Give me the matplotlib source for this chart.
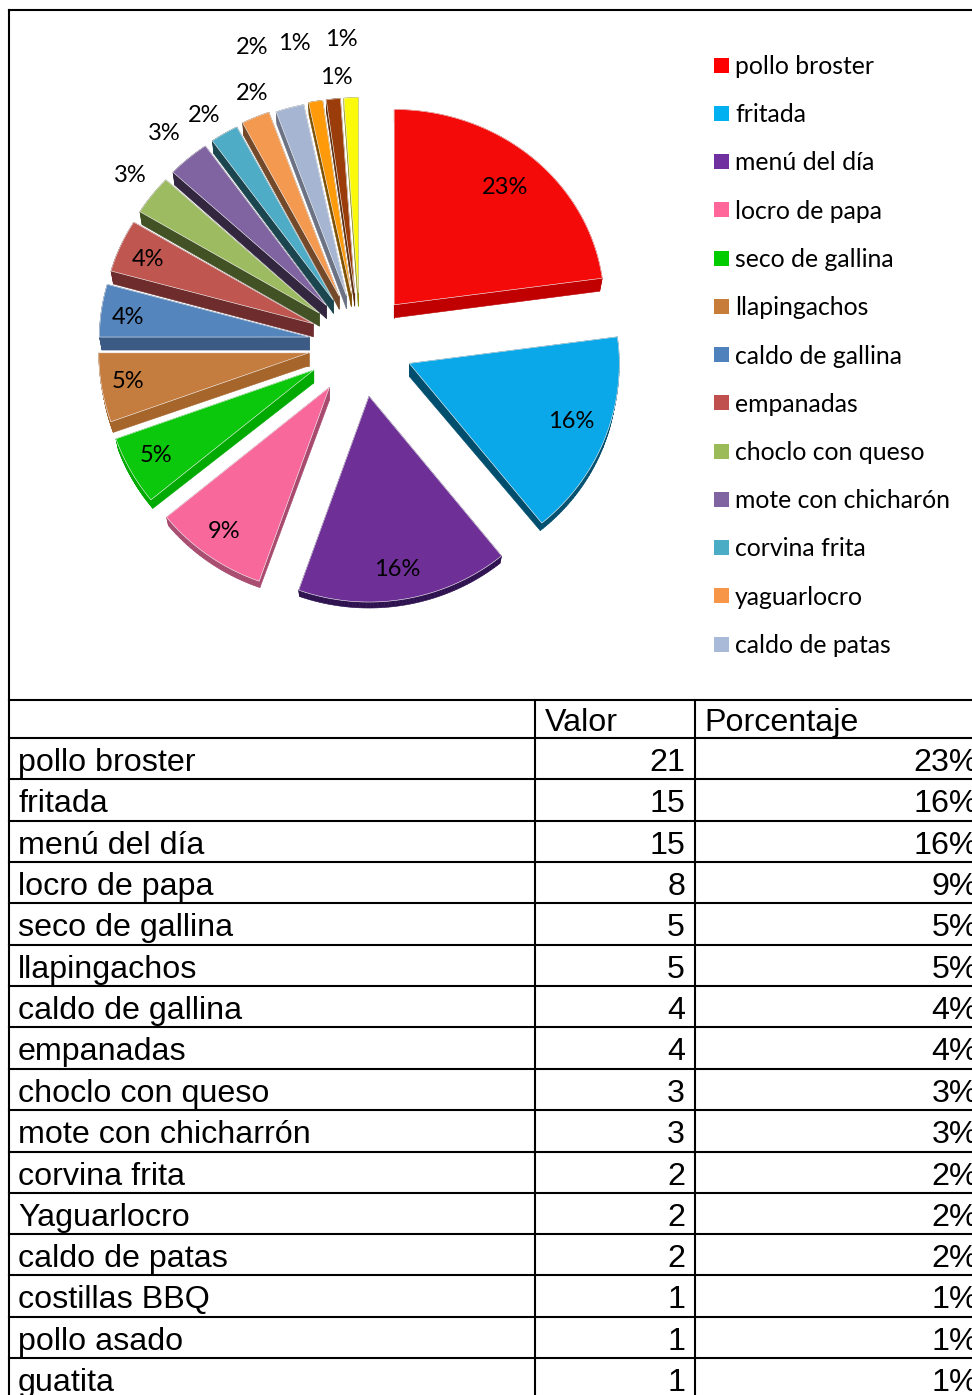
import matplotlib
matplotlib.use("Agg")
import matplotlib.pyplot as plt
from matplotlib.patches import Polygon, Rectangle
import numpy as np

# table rows
rows = ['pollo broster', 'fritada', 'menú del día', 'locro de papa', 'seco de gallina',
        'llapingachos', 'caldo de gallina', 'empanadas', 'choclo con queso',
        'mote con chicharrón', 'corvina frita', 'Yaguarlocro', 'caldo de patas',
        'costillas BBQ', 'pollo asado', 'guatita']
valor = [21, 15, 15, 8, 5, 5, 4, 4, 3, 3, 2, 2, 2, 1, 1, 1]
porcentaje = [23, 16, 16, 9, 5, 5, 4, 4, 3, 3, 2, 2, 2, 1, 1, 1]

# legend entries
legend_names = ['pollo broster', 'fritada', 'menú del día', 'locro de papa', 'seco de gallina',
                'llapingachos', 'caldo de gallina', 'empanadas', 'choclo con queso',
                'mote con chicharón', 'corvina frita', 'yaguarlocro', 'caldo de patas']

# slice styles
face_cols = ['#F50A0A', '#0AA8E8', '#6E2F96', '#F8689A', '#0CC80C', '#C57C3F', '#5585BD', '#BF5650',
             '#9DBB61', '#8064A2', '#4FACC6', '#F39950', '#A6B5D2', '#FF9A0A', '#9A3D0A', '#FAFA0A']
side_cols = ['#C00000', '#004E6E', '#2E1250', '#A84A6E', '#00AA00', '#A5652B', '#3B5B85', '#6E2C2C',
             '#435225', '#33263F', '#1B4650', '#74492A', '#6A7284', '#7E5000', '#5A2A08', '#8A8A00']
legend_cols = ['#FF0000', '#00B0F0', '#7030A0', '#FF6699', '#00CC00', '#C77C3A', '#4F81BD',
               '#C0504D', '#9BBB59', '#8064A2', '#4BACC6', '#F79646', '#A9B9D8']
explode = [52, 53, 53, 53, 53, 52, 51, 51, 51, 51, 51, 52, 50, 51, 51, 51]
label_x = [505, 571, 397, 224, 156, 128, 128, 148, 130, 164, 204, 252, 252, 294, 336, 341]
label_y = [187, 422, 570, 532, 456, 382, 318, 260, 176, 134, 116, 94, 47, 44, 78, 40]

cx, cy = 360, 344
radius = 210
depth = 13

# table grid
h_lines = [700, 738, 779, 821, 862, 903, 945, 986, 1027, 1069, 1110, 1152, 1193, 1234, 1275, 1317, 1358]
v_lines = [535, 695]


def project(theta):
    # the far half of the pie is foreshortened more than the near half
    s = np.sin(theta)
    c = np.cos(theta)
    return s * radius, -c * radius * np.where(c > 0, 0.93, 0.98)


def draw_slice(ax, start, end, off, face, side):
    mid = (start + end) / 2
    ax0 = cx + off * np.sin(mid)
    ay0 = cy - off * np.cos(mid)
    t = np.linspace(start, end, 60)
    dx, dy = project(t)
    xs = np.r_[ax0, ax0 + dx]
    ys = np.r_[ay0, ay0 + dy]
    # near rim looks thinner than the apex
    th = np.r_[depth, depth - 7 * np.clip(-np.cos(t), 0, 1)]
    xb = xs - np.r_[0, dx] * 0.012
    yb = ys + th
    n = len(xs)
    for i in range(n):
        j = (i + 1) % n
        quad = [(xs[i], ys[i]), (xs[j], ys[j]), (xb[j], yb[j]), (xb[i], yb[i])]
        ax.add_patch(Polygon(quad, closed=True, fc=side, ec=side, lw=0.4, zorder=2))
    ax.add_patch(Polygon(np.c_[xs, ys], closed=True, fc=face, ec='#F4F4F4', lw=0.4, zorder=2))


def main():
    fig = plt.figure(figsize=(9.72, 13.95), dpi=100)
    ax = fig.add_axes([0, 0, 1, 1])
    ax.set_xlim(0, 972)
    ax.set_ylim(1395, 0)
    ax.axis('off')

    # exploded pie, drawn from the back slices forward
    angles = np.r_[0, np.cumsum(valor)] / sum(valor) * 2 * np.pi
    for i in range(len(valor) - 1, -1, -1):
        draw_slice(ax, angles[i], angles[i + 1], explode[i], face_cols[i], side_cols[i])

    for i in range(len(porcentaje)):
        ax.text(label_x[i], label_y[i], '%d%%' % porcentaje[i], family='Lato', fontsize=17,
                ha='center', va='center', color='black', zorder=3)

    # legend
    for i in range(len(legend_names)):
        y = 65 + i * 48.25
        ax.add_patch(Rectangle((714, y - 7.5), 15, 15, fc=legend_cols[i], ec='none', zorder=3))
        ax.text(735, y + 9, legend_names[i], family='Lato', fontsize=17.85, ha='left', va='baseline',
                color='black', zorder=3)

    # borders and grid
    ax.plot([9, 972], [10, 10], color='black', lw=1.5)
    ax.plot([9, 9], [10, 1395], color='black', lw=1.5)
    for y in h_lines:
        ax.plot([9, 972], [y, y], color='black', lw=1.5)
    for x in v_lines:
        ax.plot([x, x], [700, 1395], color='black', lw=1.5)

    ax.text(545, 731, 'Valor', family='Liberation Sans', fontsize=23.2, ha='left', va='baseline')
    ax.text(704, 731, 'Porcentaje', family='Liberation Sans', fontsize=23.2, ha='left', va='baseline')
    for i in range(len(rows)):
        y = h_lines[i + 1] + 33
        ax.text(18, y, rows[i], family='Liberation Sans', fontsize=23.2, ha='left', va='baseline')
        ax.text(685, y, str(valor[i]), family='Liberation Sans', fontsize=23.2, ha='right', va='baseline')
        ax.text(978, y, '%d%%' % porcentaje[i], family='Liberation Sans', fontsize=23.2,
                ha='right', va='baseline')

    fig.savefig('out.png', dpi=100, facecolor='white')


if __name__ == '__main__':
    main()
